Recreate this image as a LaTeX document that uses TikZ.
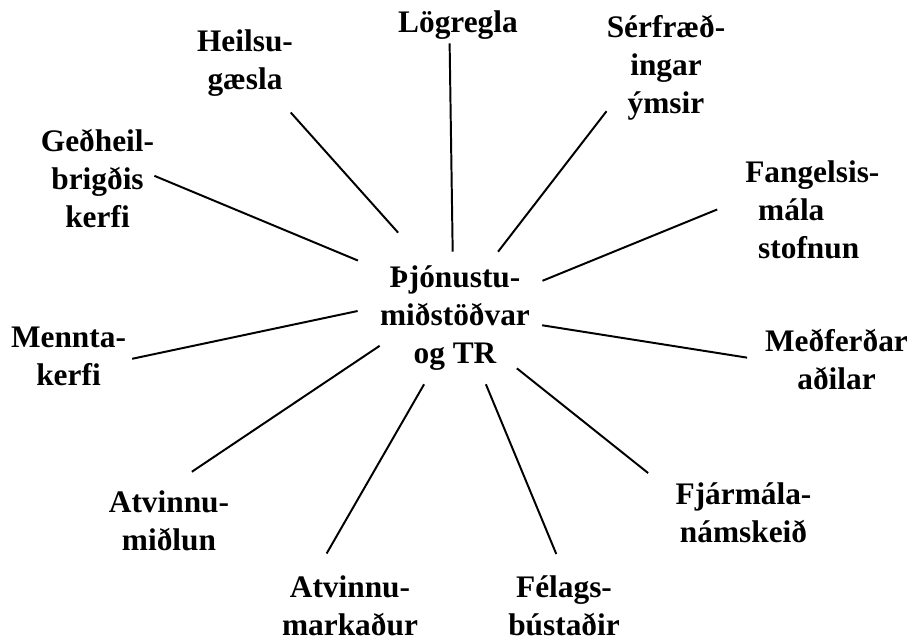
\documentclass[tikz,border=0pt]{standalone}
\usepackage{fontspec}
\setmainfont{Liberation Serif}
\usepackage{tikz}

\begin{document}
\begin{tikzpicture}[
  font=\fontsize{22.3}{27}\selectfont\bfseries,
  leaf/.style={inner sep=0pt, align=center},
  hubbox/.style={inner sep=0pt, align=center, minimum width=4.6cm, minimum height=3.3cm},
  link/.style={line width=1.4pt}
]
\fill[white] (0,0) rectangle (22.825,-16.05);

\node[hubbox] (hub) at (11.375,-7.95) {Þjónustu-\\miðstöðvar\\og TR};

\node[leaf] (log) at (11.45,-0.62) {Lögregla};
\node[leaf] (heil) at (6.125,-1.57) {Heilsu-\\gæsla};
\node[leaf] (ser) at (16.65,-1.70) {Sérfræð-\\ingar\\ýmsir};
\node[leaf] (ged) at (2.4375,-4.47) {Geðheil-\\brigðis\\kerfi};
\node[leaf, align=left, anchor=west] (fang) at (18.625,-5.25) {Fangelsis-\\\hspace*{9.2pt}mála\\\hspace*{9.2pt}stofnun};
\node[leaf] (menn) at (1.7125,-8.90) {Mennta-\\kerfi};
\node[leaf] (med) at (20.9125,-8.98) {Meðferðar\\aðilar};
\node[leaf] (midl) at (4.225,-13.025) {Atvinnu-\\miðlun};
\node[leaf] (fjar) at (18.5875,-12.825) {Fjármála-\\námskeið};
\node[leaf] (mark) at (8.75,-15.15) {Atvinnu-\\markaður};
\node[leaf] (fel) at (14.1,-15.1375) {Félags-\\bústaðir};

\foreach \n/\a/\b/\s/\e in {log/92.6/240.4/0/0.1, heil/121.4/313.8/0.64/0.54,
    ser/57.9/216.1/0/0, ged/149.6/3.0/0.13/0, fang/23.5/170.4/-0.13/0.75,
    menn/175.6/356.9/0.13/0.15, med/355.8/181.4/-0.13/0.45,
    midl/203.2/100/-0.51/0.85, fjar/321.4/165.1/-0.64/0.87,
    mark/245.5/140.8/0/0.64, fel/295/88.8/0/0.57} {
  \draw[link, shorten <=\s cm, shorten >=\e cm] (hub.\a) -- (\n.\b);
}
\end{tikzpicture}
\end{document}
